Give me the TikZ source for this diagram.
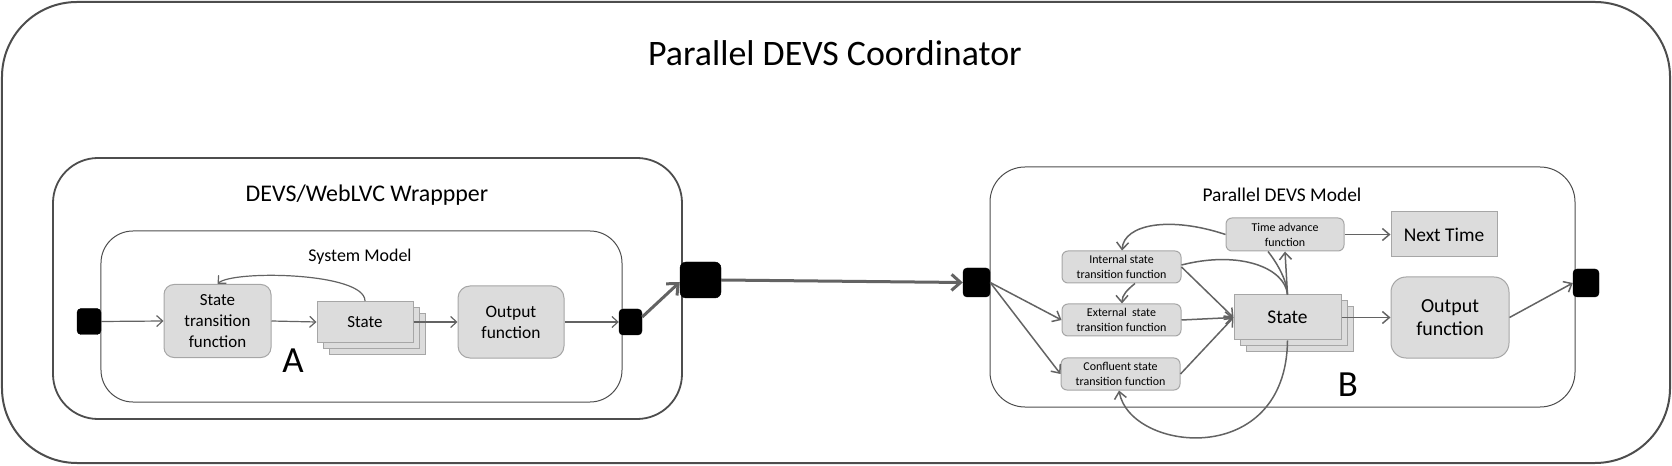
\documentclass[tikz,border=0pt]{standalone}
\usepackage{fontspec}
\setmainfont{Carlito}
\usetikzlibrary{arrows.meta}
\definecolor{boxfill}{HTML}{DCDCDC}
\definecolor{boxline}{HTML}{A6A6A6}
\definecolor{conn}{HTML}{636363}
\definecolor{framec}{HTML}{4D4D4D}
\tikzset{
  gbox/.style={draw=boxline, fill=boxfill, line width=1bp, inner sep=0pt, align=center},
  port/.style={fill=black, draw=black, rounded corners=4bp, inner sep=0pt},
  cont/.style={draw=framec, inner sep=0pt},
  arr/.style={draw=conn, line width=1.2bp, -{Straight Barb[length=6bp,width=11bp,line width=1.2bp]}},
  arrb/.style={draw=conn, line width=1.5bp, -{Straight Barb[length=7bp,width=12bp,line width=1.5bp]}},
  thickarr/.style={draw=conn, line width=3bp, -{Straight Barb[length=9bp,width=16bp,line width=3bp]}},
  ln/.style={draw=conn, line width=1.5bp},
  fA/.style={font=\fontsize{17}{21}\selectfont},
  fS/.style={font=\fontsize{12}{15}\selectfont},
  fB/.style={font=\fontsize{20}{23}\selectfont},
  fL/.style={font=\fontsize{37}{42}\selectfont},
}
\begin{document}
\begin{tikzpicture}[x=1bp,y=-1bp]
\useasboundingbox (0,0) rectangle (1672,466);
% containers
\node[cont, line width=2bp, rounded corners=75bp, minimum width=1668bp, minimum height=461bp] (outer) at (836,232.5) {};
\node[anchor=base, font=\fontsize{36}{42}\selectfont] (title) at (835,66) {Parallel DEVS Coordinator};
\node[cont, line width=1.8bp, rounded corners=45bp, minimum width=629bp, minimum height=261bp] (wrap) at (367.5,288.5) {};
\node[anchor=base, font=\fontsize{24}{28}\selectfont] (wraptitle) at (367,202) {DEVS/WebLVC Wrappper};
\node[cont, line width=1bp, rounded corners=32bp, minimum width=521bp, minimum height=171bp] (sysm) at (361.5,316.5) {};
\node[anchor=base, font=\fontsize{18}{21}\selectfont] (sysmtitle) at (360,262) {System Model};
\node[cont, line width=1bp, rounded corners=35bp, minimum width=585bp, minimum height=240bp] (pdm) at (1282.5,287) {};
\node[anchor=base, font=\fontsize{19.5}{23}\selectfont] (pdmtitle) at (1282,202) {Parallel DEVS Model};

% left model
\node[port, minimum width=24bp, minimum height=26bp] (portAi) at (89,321.5) {};
\node[gbox, rounded corners=10bp, minimum width=107bp, minimum height=73bp, fA] (stfA) at (217.5,321) {State\\transition\\function};
\node[gbox, minimum width=96bp, minimum height=41bp] (stateA3) at (377,334) {};
\node[gbox, minimum width=96bp, minimum height=41bp] (stateA2) at (371,328) {};
\node[gbox, minimum width=96bp, minimum height=41bp, fA] (stateA) at (365,322) {State};
\node[gbox, rounded corners=12bp, minimum width=106bp, minimum height=72bp, font=\fontsize{17.5}{21}\selectfont] (outA) at (511,322) {Output\\function};
\node[port, minimum width=23bp, minimum height=26bp] (portAo) at (630.5,322) {};
\node[anchor=base, fL] (labA) at (293,373) {A};
\node[port, rounded corners=6bp, minimum width=41bp, minimum height=36bp] (bigport) at (700.5,280) {};
\node[port, minimum width=27bp, minimum height=29bp] (portBi) at (976.5,282.5) {};

\draw[arr] (portAi.east) -- (stfA.west);
\draw[arr] (stfA.east) -- (stateA.west);
\draw[arr] (stateA.east) -- (outA.west);
\draw[arr] (outA.east) -- (portAo.west);
\draw[arr] (stateA.north) .. controls (365,272) and (232,270) .. (stfA.north);
\draw[thickarr] ([yshift=5bp]portAo.east) -- ([yshift=-2bp]bigport.west);
\draw[thickarr] (bigport.east) -- (portBi.west);

% right model
\node[gbox, rounded corners=6bp, minimum width=119bp, minimum height=32bp, fS] (intSTF) at (1121.5,267) {Internal state\\transition function};
\node[gbox, rounded corners=6bp, minimum width=119bp, minimum height=32bp, fS] (extSTF) at (1121.5,320) {External~~state\\transition function};
\node[gbox, rounded corners=6bp, minimum width=119bp, minimum height=32bp, fS] (confSTF) at (1120.5,374) {Confluent state\\transition function};
\node[gbox, rounded corners=6bp, minimum width=118bp, minimum height=33bp, fS] (ta) at (1285,234.5) {Time advance\\function};
\node[gbox, minimum width=106bp, minimum height=45bp, font=\fontsize{19.5}{23}\selectfont] (next) at (1444,234.5) {Next Time};
\node[gbox, minimum width=107bp, minimum height=45bp] (stateB3) at (1299.5,329.5) {};
\node[gbox, minimum width=107bp, minimum height=45bp] (stateB2) at (1293.5,323.5) {};
\node[gbox, minimum width=107bp, minimum height=45bp, font=\fontsize{19.5}{23}\selectfont] (stateB) at (1287.5,317.5) {State};
\node[gbox, rounded corners=15bp, minimum width=118bp, minimum height=81bp, fB] (outB) at (1450,317.5) {Output\\function};
\node[port, minimum width=26bp, minimum height=28bp] (portBo) at (1586,283) {};
\node[anchor=base, fL] (labB) at (1348,396) {B};

\draw[arrb] (portBi.east) -- (extSTF.west);
\draw[arrb] (portBi.east) -- (confSTF.west);
\draw[arrb] (intSTF.east) -- (stateB.west);
\draw[arrb] (extSTF.east) -- (stateB.west);
\draw[arrb] (confSTF.east) -- (stateB.west);
\draw[arrb] (stateB.north) -- (ta.south);
\draw[ln] ([xshift=-17bp]ta.south) .. controls (1277,263) and (1287,280) .. (stateB.north);
\draw[ln] ([yshift=2bp]intSTF.east) .. controls (1240,250) and (1285,268) .. (stateB.north);
\draw[arrb] (ta.west) .. controls (1170,216) and (1124,224) .. ([xshift=0.5bp]intSTF.north);
\draw[arrb] ([xshift=13.5bp]intSTF.south) .. controls (1127,290) and (1122,295) .. ([xshift=0.5bp]extSTF.north);
\draw[arrb] (stateB.south) .. controls (1286,470) and (1130,452) .. ([xshift=-1.5bp]confSTF.south);
\draw[arrb] (stateB.east) -- (outB.west);
\draw[arrb] (ta.east) -- (next.west);
\draw[arrb] (outB.east) -- (portBo.west);
\end{tikzpicture}
\end{document}
